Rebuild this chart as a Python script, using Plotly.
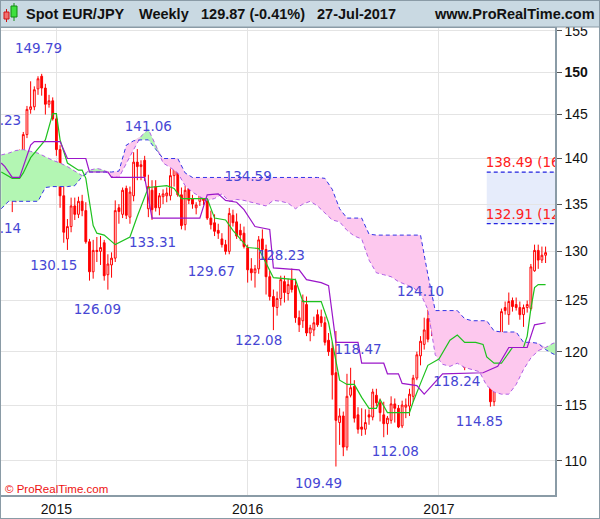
import numpy as np
import pandas as pd
import plotly.graph_objects as go

# weekly bars (Monday of each week)
weeks = pd.date_range("2014-09-29", periods=148, freq="7D")

opens = [
    138.6, 137.2, 135.8, 136.5, 136.9, 140.6, 142.7, 145.6, 145.9, 148.0,
    149.5, 148.1, 146.2, 146.6, 144.5, 141.0, 135.9, 131.3, 132.6, 134.8,
    133.9, 135.3, 134.3, 131.0, 127.9, 130.1, 130.0, 130.9, 127.6, 128.6,
    129.3, 134.6, 133.9, 136.7, 133.6, 135.9, 139.6, 139.1, 139.8, 134.5,
    136.5, 136.9, 134.6, 135.8, 135.9, 135.9, 138.1, 138.9, 136.0, 132.8,
    136.7, 135.6, 134.6, 135.3, 136.3, 135.4, 133.5, 133.0, 132.2, 131.3,
    130.7, 130.0, 133.8, 133.1, 132.2, 131.9, 130.4, 128.2, 127.8, 128.2,
    131.3, 130.2, 127.4, 125.4, 124.3, 125.2, 126.9, 125.7, 127.1, 126.5,
    123.3, 123.0, 124.6, 121.8, 122.1, 123.6, 123.4, 122.8, 121.1, 120.3,
    118.0, 113.4, 114.0, 111.2, 115.9, 116.7, 114.1, 113.0, 112.8, 114.1,
    113.9, 115.9, 115.2, 114.1, 113.3, 113.6, 115.1, 114.7, 113.1, 114.8,
    114.9, 115.8, 117.5, 119.6, 120.7, 123.2, 123.0, 122.6, 123.0, 122.8,
    122.6, 122.3, 123.2, 121.2, 120.7, 120.7, 118.5, 121.0, 122.5, 121.7,
    120.3, 118.7, 117.6, 115.3, 120.5, 121.3, 124.3, 123.6, 125.0, 124.6,
    124.3, 123.6, 124.3, 124.2, 128.0, 130.1, 129.1, 129.6,
]
highs = [
    139.1, 137.9, 137.0, 137.3, 141.0, 143.0, 146.0, 148.9, 148.3, 149.5,
    149.79, 148.6, 147.3, 147.0, 145.0, 141.5, 137.3, 133.4, 135.7, 135.7,
    135.8, 136.0, 135.2, 131.3, 131.2, 131.5, 131.6, 131.2, 129.7, 129.9,
    135.4, 135.0, 136.8, 137.0, 136.9, 140.7, 141.06, 139.8, 140.3, 138.2,
    137.6, 137.6, 136.2, 136.6, 136.8, 138.9, 139.0, 139.3, 136.8, 137.0,
    137.2, 136.0, 135.2, 136.8, 136.8, 136.2, 134.3, 133.9, 132.9, 131.9,
    131.2, 134.59, 134.4, 134.0, 132.9, 132.6, 130.7, 129.3, 128.6, 131.6,
    132.3, 130.7, 128.0, 126.1, 125.9, 127.5, 127.5, 127.2, 128.23, 127.2,
    124.0, 125.6, 125.4, 122.6, 123.4, 124.1, 124.1, 123.4, 121.8, 120.9,
    122.0, 114.7, 114.4, 117.9, 118.47, 117.3, 114.8, 114.7, 114.6, 114.6,
    116.5, 116.5, 115.6, 115.3, 114.0, 115.8, 115.6, 115.0, 115.4, 115.6,
    116.5, 117.8, 120.0, 121.5, 123.3, 124.10, 123.9, 123.3, 123.8, 123.9,
    123.6, 123.7, 123.7, 121.8, 121.6, 121.2, 121.3, 122.8, 123.0, 122.1,
    121.0, 119.3, 117.9, 117.5, 122.0, 124.2, 124.9, 125.8, 125.3, 125.3,
    124.9, 124.6, 125.0, 128.7, 130.7, 130.7, 130.5, 130.5,
]
lows = [
    136.8, 135.3, 134.14, 135.2, 136.3, 139.6, 142.3, 145.1, 145.5, 147.3,
    147.2, 145.0, 145.8, 144.3, 140.3, 134.6, 130.9, 130.15, 132.0, 133.3,
    133.5, 133.7, 130.8, 127.0, 127.2, 128.9, 128.6, 127.0, 126.09, 127.3,
    128.9, 132.9, 133.5, 133.4, 132.9, 135.3, 137.6, 137.6, 137.5, 133.6,
    133.31, 134.2, 133.8, 135.0, 135.2, 135.4, 136.9, 135.8, 132.3, 132.2,
    135.0, 134.5, 133.9, 134.8, 134.9, 133.3, 132.3, 131.6, 131.3, 130.4,
    129.67, 129.7, 132.6, 131.3, 131.1, 130.3, 126.8, 127.0, 126.3, 127.7,
    129.6, 125.6, 125.0, 122.08, 123.5, 124.5, 124.8, 125.0, 125.8, 122.8,
    121.9, 122.3, 121.5, 121.0, 121.5, 122.4, 122.4, 120.6, 119.6, 115.5,
    109.49, 111.4, 110.4, 110.9, 115.7, 113.4, 112.4, 112.2, 112.3, 113.2,
    113.6, 114.9, 113.5, 112.08, 112.3, 113.3, 113.4, 112.9, 112.9, 113.8,
    114.0, 115.3, 117.3, 118.7, 120.2, 120.9, 121.5, 121.9, 121.7, 121.9,
    121.1, 121.4, 121.0, 119.6, 119.5, 118.24, 118.4, 120.2, 120.7, 120.0,
    118.5, 117.3, 114.85, 114.9, 119.5, 121.0, 123.6, 122.6, 123.9, 124.0,
    123.1, 122.4, 123.8, 124.0, 127.9, 128.2, 128.8, 128.8,
]
closes = [
    137.2, 135.8, 136.5, 137.0, 140.6, 142.7, 145.6, 145.9, 147.9, 149.2,
    148.1, 146.2, 146.6, 144.5, 141.0, 135.9, 132.0, 132.6, 134.8, 133.9,
    135.3, 134.3, 131.0, 127.9, 130.1, 130.0, 130.4, 127.5, 128.7, 129.3,
    134.3, 134.2, 136.5, 133.8, 136.3, 139.6, 139.1, 139.3, 138.0, 136.9,
    134.4, 134.6, 135.9, 136.1, 136.2, 138.1, 138.9, 136.0, 132.7, 136.5,
    135.4, 135.0, 134.9, 136.5, 135.4, 133.5, 132.8, 132.1, 131.9, 130.7,
    130.0, 134.0, 133.0, 131.6, 131.7, 130.5, 128.1, 127.8, 128.2, 131.2,
    130.2, 127.4, 125.4, 124.4, 125.2, 127.1, 125.8, 126.6, 126.1, 123.3,
    122.6, 125.0, 121.8, 122.3, 122.8, 122.6, 122.8, 120.9, 120.0, 117.8,
    113.6, 114.0, 111.2, 115.8, 116.6, 113.8, 112.8, 112.8, 113.4, 113.9,
    116.2, 115.2, 114.3, 113.3, 113.8, 115.1, 114.7, 113.0, 115.0, 115.0,
    116.0, 117.5, 119.7, 121.0, 122.1, 121.2, 122.6, 123.0, 122.7, 123.3,
    121.9, 123.2, 121.3, 119.9, 119.7, 118.5, 121.0, 122.4, 120.8, 120.3,
    119.0, 117.6, 115.3, 116.9, 121.6, 123.9, 124.0, 124.9, 124.4, 124.3,
    123.6, 124.3, 124.6, 128.4, 130.1, 129.1, 129.6, 129.87,
]

# Ichimoku cloud as drawn (already shifted 26 weeks ahead), every two weeks
cloud_dates = pd.date_range("2014-09-22", periods=77, freq="14D")
span_a = [
    140.4, 140.6, 140.9, 141.0, 140.8, 140.6, 140.2, 139.8, 139.5, 139.1,
    138.6, 138.1, 138.7, 138.9, 138.7, 138.0, 137.9, 139.5, 141.0, 142.5,
    143.3, 141.5, 139.5, 139.0, 138.4, 137.0, 136.3, 135.8, 135.4, 135.6,
    136.1, 135.3, 135.5, 135.4, 135.2, 135.0, 134.8, 135.4, 135.3, 135.1,
    134.5, 135.0, 135.3, 134.8, 134.0, 133.3, 133.1, 132.2, 131.6, 131.3,
    129.1, 127.8, 127.6, 127.4, 126.9, 126.6, 126.3, 125.7, 124.1, 119.7,
    118.8, 118.6, 118.9, 118.5, 118.3, 118.1, 116.8, 116.2, 116.0, 116.0,
    116.9, 118.3, 119.4, 120.1, 120.4, 120.8, 121.0,
]
span_b = [
    134.5, 135.3, 135.3, 135.3, 135.3, 135.3, 136.8, 136.9, 136.9, 136.9,
    137.0, 138.0, 138.5, 138.5, 138.5, 138.5, 138.6, 141.5, 142.0, 142.1,
    142.1, 141.0, 140.0, 140.0, 140.0, 138.4, 137.9, 137.9, 137.9, 137.9,
    137.9, 137.9, 137.9, 137.9, 137.9, 137.9, 137.9, 137.9, 137.9, 137.9,
    137.9, 137.9, 137.9, 137.9, 137.8, 136.6, 134.5, 133.5, 133.5, 133.5,
    131.8, 131.7, 131.7, 131.7, 131.7, 131.7, 131.7, 131.7, 127.6, 124.0,
    124.0, 124.0, 124.0, 123.2, 123.0, 123.0, 123.0, 122.0, 121.9, 121.9,
    121.9, 120.9, 120.9, 120.8, 120.2, 119.8, 119.5,
]

# conversion line (green) and base line (purple), read at their corners
tenkan_dates = [
    "2014-09-22", "2014-10-13", "2014-10-27", "2014-11-03", "2014-11-17",
    "2014-12-15", "2014-12-29", "2015-01-05", "2015-01-12", "2015-01-26",
    "2015-02-16", "2015-02-23", "2015-03-02", "2015-03-09", "2015-03-16",
    "2015-03-23", "2015-04-06", "2015-04-27", "2015-05-25", "2015-06-08",
    "2015-06-29", "2015-08-03", "2015-08-17", "2015-08-31", "2015-10-19",
    "2015-11-02", "2015-11-23", "2015-12-07", "2016-01-04", "2016-01-25",
    "2016-02-22", "2016-04-04", "2016-04-18", "2016-05-23", "2016-06-06",
    "2016-06-27", "2016-07-11", "2016-07-25", "2016-08-08", "2016-08-22",
    "2016-09-05", "2016-09-12", "2016-09-26", "2016-11-07", "2016-11-14",
    "2016-11-28", "2016-12-12", "2017-01-02", "2017-01-23", "2017-02-06",
    "2017-02-20", "2017-03-13", "2017-03-27", "2017-04-03", "2017-04-17",
    "2017-05-01", "2017-05-22", "2017-06-12", "2017-06-19", "2017-06-26",
    "2017-07-03", "2017-07-10", "2017-07-24",
]
tenkan = [
    138.5, 137.8, 137.8, 138.4, 140.1,
    142.1, 145.1, 145.1, 142.1, 139.5,
    138.7, 138.7, 137.8, 135.0, 132.7,
    131.9, 131.7, 130.7, 131.5, 133.7,
    136.8, 137.0, 136.7, 135.6, 135.6,
    133.5, 133.3, 132.2, 130.4, 130.3,
    127.3, 127.1, 124.9, 124.9, 122.8,
    117.3, 116.9, 116.9, 115.7, 114.7,
    114.7, 115.5, 114.3, 114.3, 115.3,
    117.0, 118.7, 119.3, 121.1, 121.6,
    120.9, 120.9, 120.7, 119.5, 118.9,
    118.9, 120.4, 120.4, 121.5, 124.2,
    126.3, 126.6, 126.6,
]
kijun_dates = [
    "2014-09-22", "2014-09-29", "2014-10-13", "2014-10-27", "2014-11-17",
    "2014-11-24", "2015-01-12", "2015-01-26", "2015-03-02", "2015-03-09",
    "2015-04-13", "2015-04-20", "2015-06-22", "2015-07-06", "2015-10-05",
    "2015-10-19", "2015-11-09", "2015-11-23", "2015-12-14", "2015-12-28",
    "2016-01-18", "2016-02-15", "2016-02-22", "2016-04-11", "2016-04-25",
    "2016-05-23", "2016-06-06", "2016-06-13", "2016-06-20", "2016-08-01",
    "2016-08-08", "2016-09-19", "2016-09-26", "2016-10-17", "2016-10-24",
    "2016-11-21", "2016-12-05", "2017-01-09", "2017-03-27", "2017-04-24",
    "2017-05-15", "2017-06-19", "2017-07-03", "2017-07-24",
]
kijun = [
    139.5, 139.1, 137.9, 137.9, 141.5,
    141.9, 141.9, 140.0, 140.0, 138.5,
    138.5, 137.9, 137.9, 133.5, 133.5,
    136.0, 136.1, 135.4, 135.2, 134.4,
    132.6, 132.3, 128.3, 128.1, 127.1,
    126.8, 126.5, 123.5, 120.9, 120.9,
    118.9, 118.9, 117.9, 117.9, 117.0,
    116.8, 116.0, 117.9, 118.0, 118.6,
    120.4, 120.4, 122.6, 122.8,
]

# swing high / low labels
swing_text = ["149.79", "141.23", "141.06", "134.14", "130.15", "133.31",
              "126.09", "134.59", "129.67", "128.23", "122.08", "118.47",
              "124.10", "118.24", "114.85", "112.08", "109.49"]

# target zone
zone_top, zone_bottom = 138.49, 132.91
zone_text = ["138.49 (16.6%)", "132.91 (12.2%)"]

BLUE_TXT = "#4646d4"
RED = "#ff0000"
GREEN_FILL = "#b3f6b3"
PINK_FILL = "#fdc8ee"

fig = go.Figure()

# cloud fills: green where span A is above B, pink otherwise
a = np.array(span_a)
b = np.array(span_b)
top = np.maximum(a, b)
for base, colour in ((b, GREEN_FILL), (a, PINK_FILL)):
    fig.add_trace(go.Scatter(x=cloud_dates, y=base, mode="lines",
                             line=dict(width=0), hoverinfo="skip"))
    fig.add_trace(go.Scatter(x=cloud_dates, y=top, mode="lines",
                             line=dict(width=0), fill="tonexty",
                             fillcolor=colour, hoverinfo="skip"))

fig.add_trace(go.Scatter(x=cloud_dates, y=span_a, mode="lines",
                         line=dict(color="#b05ee6", width=1, dash="4px,3px"),
                         hoverinfo="skip"))
fig.add_trace(go.Scatter(x=cloud_dates, y=span_b, mode="lines",
                         line=dict(color="#3434e6", width=1, dash="4px,3px"),
                         hoverinfo="skip"))

fig.add_trace(go.Candlestick(
    x=weeks, open=opens, high=highs, low=lows, close=closes,
    increasing=dict(line=dict(color=RED, width=1), fillcolor="#ffffff"),
    decreasing=dict(line=dict(color=RED, width=1), fillcolor=RED),
    whiskerwidth=0, hoverinfo="skip",
))

fig.add_trace(go.Scatter(x=pd.to_datetime(tenkan_dates), y=tenkan, mode="lines",
                         line=dict(color="#1ec21e", width=1.2), hoverinfo="skip"))
fig.add_trace(go.Scatter(x=pd.to_datetime(kijun_dates), y=kijun, mode="lines",
                         line=dict(color="#9b16c9", width=1.2), hoverinfo="skip"))

# label positions (centre of each text)
swing_x = ["2014-12-02", "2014-09-15", "2015-06-29", "2014-09-15", "2014-12-31",
           "2015-07-07", "2015-03-24", "2016-01-05", "2015-10-27", "2016-03-08",
           "2016-01-25", "2016-08-01", "2016-11-28", "2017-02-05", "2017-03-20",
           "2016-10-11", "2016-05-18"]
swing_y = [152.7, 144.2, 143.5, 132.3, 128.4, 130.8, 124.0, 137.9, 127.8,
           129.5, 121.0, 120.1, 125.8, 117.1, 113.4, 110.7, 107.9]
fig.add_trace(go.Scatter(x=pd.to_datetime(swing_x), y=swing_y, mode="text",
                         text=swing_text, textposition="middle center",
                         textfont=dict(family="DejaVu Sans", size=13.5, color=BLUE_TXT),
                         cliponaxis=True, hoverinfo="skip"))

fig.add_trace(go.Scatter(x=pd.to_datetime(["2017-04-01", "2017-04-01"]),
                         y=[139.4, 133.75], mode="text", text=zone_text,
                         textposition="middle right",
                         textfont=dict(family="DejaVu Sans", size=13.5, color="#ff2020"),
                         cliponaxis=True, hoverinfo="skip"))

shapes = [
    dict(type="rect", xref="x", yref="y", x0="2017-04-03", x1="2017-09-30",
         y0=zone_bottom, y1=zone_top, fillcolor="#e6ecfb", line=dict(width=0),
         layer="below"),
    dict(type="line", xref="x", yref="y", x0="2017-04-03", x1="2017-09-30",
         y0=zone_top, y1=zone_top, line=dict(color="#2222e0", width=1.2, dash="4px,3px")),
    dict(type="line", xref="x", yref="y", x0="2017-04-03", x1="2017-09-30",
         y0=zone_bottom, y1=zone_bottom, line=dict(color="#2222e0", width=1.2, dash="4px,3px")),
]


def px(x):
    return (x - 1) / 554


def py(y):
    return (495 - y) / 467


# title bar and outer frame
shapes += [
    dict(type="rect", xref="paper", yref="paper", x0=px(0), x1=px(600),
         y0=py(27), y1=py(0), fillcolor="#c9d9e2",
         line=dict(color="#8a9ba6", width=1)),
    dict(type="rect", xref="paper", yref="paper", x0=px(0), x1=px(600),
         y0=py(519), y1=py(0), fillcolor="rgba(0,0,0,0)",
         line=dict(color="#8a9ba6", width=2)),
    # small candle icon
    dict(type="line", xref="paper", yref="paper", x0=px(6.5), x1=px(6.5),
         y0=py(22), y1=py(9), line=dict(color="#d01010", width=1)),
    dict(type="rect", xref="paper", yref="paper", x0=px(4), x1=px(9),
         y0=py(19), y1=py(12), fillcolor="#f07070", line=dict(color="#d01010", width=1)),
    dict(type="line", xref="paper", yref="paper", x0=px(14), x1=px(14),
         y0=py(21), y1=py(3), line=dict(color="#108a10", width=1)),
    dict(type="rect", xref="paper", yref="paper", x0=px(11), x1=px(17),
         y0=py(17), y1=py(6), fillcolor="#3ee03e", line=dict(color="#108a10", width=1)),
]

title_font = dict(family="Liberation Sans", size=14.5, color="#111111")
annotations = []
for text, x in (("Spot EUR/JPY", 24), ("Weekly", 137), ("129.87 (-0.41%)", 198.5),
                ("27-Jul-2017", 315)):
    annotations.append(dict(text="<b>%s</b>" % text, xref="paper", yref="paper",
                            x=px(x), y=py(14), xanchor="left", yanchor="middle",
                            showarrow=False, font=title_font))
annotations.append(dict(text="<b>www.ProRealTime.com</b>", xref="paper", yref="paper",
                        x=px(597), y=py(14), xanchor="right", yanchor="middle",
                        showarrow=False, font=title_font))
annotations.append(dict(text="© ProRealTime.com", xref="paper", yref="paper",
                        x=px(3), y=py(489), xanchor="left", yanchor="middle",
                        showarrow=False,
                        font=dict(family="Liberation Sans", size=11.5, color="#ee1111")))

ytick_vals = [110, 115, 120, 125, 130, 135, 140, 145, 150, 155]
ytick_text = [str(v) if v != 150 else "<b>150</b>" for v in ytick_vals]

fig.update_layout(
    width=600, height=519,
    margin=dict(l=1, r=45, t=28, b=24),
    paper_bgcolor="white", plot_bgcolor="white",
    showlegend=False,
    shapes=shapes, annotations=annotations,
    xaxis=dict(
        type="date", range=["2014-09-21 14:00", "2017-08-10 22:00"],
        tickvals=["2015-01-05", "2016-01-04", "2017-01-02"],
        ticktext=["2015", "2016", "2017"],
        showgrid=True, gridcolor="#e4e4e4", gridwidth=1,
        showline=True, linecolor="#8a9ba6", linewidth=1.5, mirror=True,
        ticks="", tickfont=dict(family="Liberation Sans", size=14, color="#111111"),
        rangeslider=dict(visible=False), automargin=False, zeroline=False,
    ),
    yaxis=dict(
        type="log", range=[np.log10(107.03), np.log10(155.37)],
        side="right", tickvals=ytick_vals, ticktext=ytick_text,
        showgrid=True, gridcolor="#e4e4e4", gridwidth=1,
        showline=True, linecolor="#8a9ba6", linewidth=1.5, mirror=True,
        ticks="outside", ticklen=5, tickcolor="#555555",
        tickfont=dict(family="Liberation Sans", size=14, color="#111111"),
        automargin=False, zeroline=False,
    ),
)

# drop the browser's default page margin so the chart sits at the window corner
fig.write_html("out.html", config={"displayModeBar": False},
               post_script="document.body.style.margin='0';document.body.style.overflow='hidden';")
